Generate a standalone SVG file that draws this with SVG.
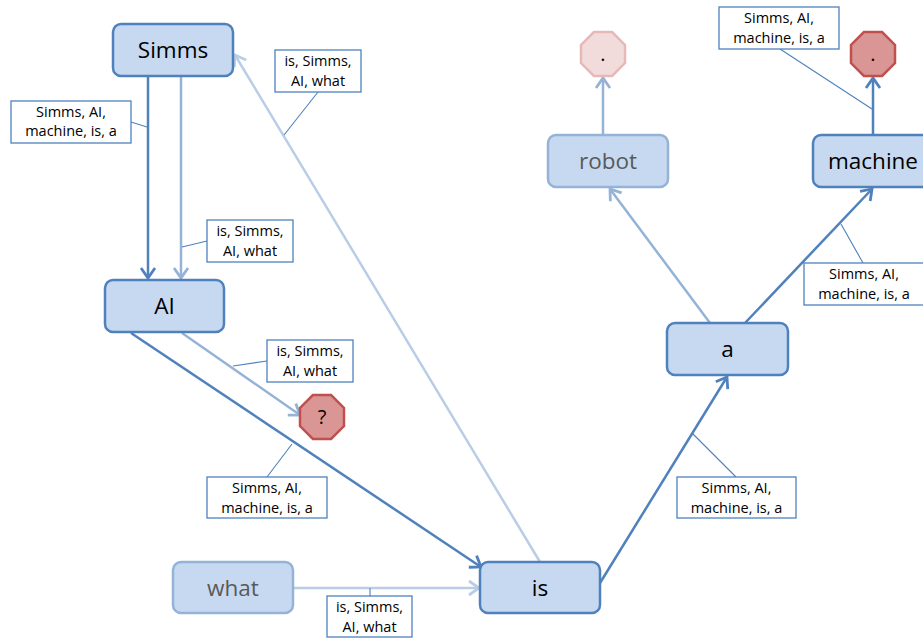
<svg xmlns="http://www.w3.org/2000/svg" width="923" height="641" viewBox="0 0 923 641">
<style>
.nd rect{fill:#c6d9f1;stroke:#4f81bd;stroke-width:2.5}
.nl rect{fill:#c6d9f1;stroke:#95b3d7;stroke-width:2.5}
.nt{font-family:"Open Sans","Liberation Sans",sans-serif;font-size:22.5px;text-anchor:middle;fill:#000}
.nl .nt{fill:#595959}
.lb rect{fill:#fff;stroke:#4f81bd;stroke-width:1.3}
.lt{font-family:"Open Sans","Liberation Sans",sans-serif;font-size:14.5px;text-anchor:middle;fill:#000}
.cd{stroke:#4f81bd;stroke-width:2.5;fill:none}
.cm{stroke:#95b3d7;stroke-width:2.5;fill:none}
.cp{stroke:#b9cde5;stroke-width:2.5;fill:none}
.ld{stroke:#4f81bd;stroke-width:1.1;fill:none}
.od polygon{fill:#d99694;stroke:#c0504d;stroke-width:2.5}
.ol polygon{fill:#f2dcdb;stroke:#e6b9b8;stroke-width:2.5}
.ot{font-family:"Open Sans","Liberation Sans",sans-serif;font-size:20px;text-anchor:middle;fill:#000}
</style>
<defs>
<marker id="ad" markerUnits="userSpaceOnUse" markerWidth="20" markerHeight="20" viewBox="-12 -10 16 20" refX="0" refY="0" orient="auto"><path d="M-10,-7 L0,0 L-10,7" fill="none" stroke="#4f81bd" stroke-width="2.8"/></marker>
<marker id="am" markerUnits="userSpaceOnUse" markerWidth="20" markerHeight="20" viewBox="-12 -10 16 20" refX="0" refY="0" orient="auto"><path d="M-10,-7 L0,0 L-10,7" fill="none" stroke="#95b3d7" stroke-width="2.8"/></marker>
<marker id="ap" markerUnits="userSpaceOnUse" markerWidth="20" markerHeight="20" viewBox="-12 -10 16 20" refX="0" refY="0" orient="auto"><path d="M-10,-7 L0,0 L-10,7" fill="none" stroke="#b9cde5" stroke-width="2.8"/></marker>
</defs>
<g id="connectors">
<line class="cd" x1="148" y1="77" x2="148" y2="278" marker-end="url(#ad)"/>
<line class="cm" x1="181" y1="77" x2="181" y2="278" marker-end="url(#am)"/>
<line class="cp" x1="540" y1="562" x2="235" y2="55" marker-end="url(#ap)"/>
<line class="cd" x1="131" y1="333" x2="481" y2="567" marker-end="url(#ad)"/>
<line class="cm" x1="182" y1="333" x2="300" y2="415" marker-end="url(#am)"/>
<line class="cp" x1="294" y1="588" x2="479" y2="588" marker-end="url(#ap)"/>
<line class="cd" x1="600" y1="583" x2="727" y2="377" marker-end="url(#ad)"/>
<line class="cm" x1="710" y1="323" x2="610" y2="189" marker-end="url(#am)"/>
<line class="cd" x1="745" y1="323" x2="872" y2="189" marker-end="url(#ad)"/>
<line class="cm" x1="603" y1="135" x2="603" y2="78" marker-end="url(#am)"/>
<line class="cd" x1="873" y1="135" x2="873" y2="78" marker-end="url(#ad)"/>
<g id="leaders">
<line class="ld" x1="131" y1="122" x2="147" y2="127"/>
<line class="ld" x1="207" y1="241" x2="182" y2="247"/>
<line class="ld" x1="318" y1="92" x2="284" y2="135"/>
<line class="ld" x1="267" y1="361" x2="233" y2="366"/>
<line class="ld" x1="267" y1="477" x2="292" y2="444"/>
<line class="ld" x1="370" y1="588" x2="370" y2="596"/>
<line class="ld" x1="780" y1="49" x2="872" y2="109"/>
<line class="ld" x1="863" y1="263" x2="841" y2="224"/>
<line class="ld" x1="736" y1="477" x2="693" y2="434"/>
</g>
<g id="labels">
<g class="lb"><rect x="11" y="101" width="120" height="42"/><text class="lt" x="71" y="117">Simms, AI,</text><text class="lt" x="71" y="136">machine, is, a</text></g>
<g class="lb"><rect x="207" y="220" width="86" height="42"/><text class="lt" x="250" y="236">is, Simms,</text><text class="lt" x="250" y="256">AI, what</text></g>
<g class="lb"><rect x="275" y="50" width="86" height="42"/><text class="lt" x="318" y="66">is, Simms,</text><text class="lt" x="318" y="86">AI, what</text></g>
<g class="lb"><rect x="267" y="340" width="86" height="42"/><text class="lt" x="310" y="356">is, Simms,</text><text class="lt" x="310" y="376">AI, what</text></g>
<g class="lb"><rect x="207" y="477" width="120" height="41"/><text class="lt" x="267" y="493">Simms, AI,</text><text class="lt" x="267" y="513">machine, is, a</text></g>
<g class="lb"><rect x="327" y="596" width="85" height="41"/><text class="lt" x="369.5" y="612">is, Simms,</text><text class="lt" x="369.5" y="632">AI, what</text></g>
<g class="lb"><rect x="719" y="7" width="120" height="42"/><text class="lt" x="779" y="23">Simms, AI,</text><text class="lt" x="779" y="43">machine, is, a</text></g>
<g class="lb"><rect x="804" y="263" width="122" height="42"/><text class="lt" x="864" y="279">Simms, AI,</text><text class="lt" x="864" y="299">machine, is, a</text></g>
<g class="lb"><rect x="677" y="477" width="119" height="41"/><text class="lt" x="736.5" y="493">Simms, AI,</text><text class="lt" x="736.5" y="513">machine, is, a</text></g>
</g>
</g>
<g id="node-simms" class="nd"><rect x="113" y="24" width="120" height="52" rx="8"/><text class="nt" x="173" y="58">Simms</text></g>
<g id="node-ai" class="nd"><rect x="105" y="280" width="119" height="52" rx="8"/><text class="nt" x="164.5" y="314">AI</text></g>
<g id="node-what" class="nl"><rect x="173" y="562" width="120" height="51" rx="8"/><text class="nt" x="233" y="596">what</text></g>
<g id="node-is" class="nd"><rect x="480" y="562" width="120" height="51" rx="8"/><text class="nt" x="540" y="596">is</text></g>
<g id="node-a" class="nd"><rect x="667" y="323" width="121" height="52" rx="8"/><text class="nt" x="727.5" y="357">a</text></g>
<g id="node-robot" class="nl"><rect x="548" y="135" width="120" height="52" rx="8"/><text class="nt" x="608" y="169">robot</text></g>
<g id="node-machine" class="nd"><rect x="813" y="135" width="120" height="52" rx="8"/><text class="nt" x="873" y="169">machine</text></g>
<g id="node-question" class="od"><polygon transform="translate(322 417)" points="-9.1,-22 9.1,-22 22,-9.1 22,9.1 9.1,22 -9.1,22 -22,9.1 -22,-9.1"/><text class="ot" x="322" y="424">?</text></g>
<g id="node-dot-robot" class="ol"><polygon transform="translate(603 54)" points="-9.1,-22 9.1,-22 22,-9.1 22,9.1 9.1,22 -9.1,22 -22,9.1 -22,-9.1"/><text class="ot" x="603" y="61">.</text></g>
<g id="node-dot-machine" class="od"><polygon transform="translate(873 54)" points="-9.1,-22 9.1,-22 22,-9.1 22,9.1 9.1,22 -9.1,22 -22,9.1 -22,-9.1"/><text class="ot" x="873" y="61">.</text></g>
</svg>
